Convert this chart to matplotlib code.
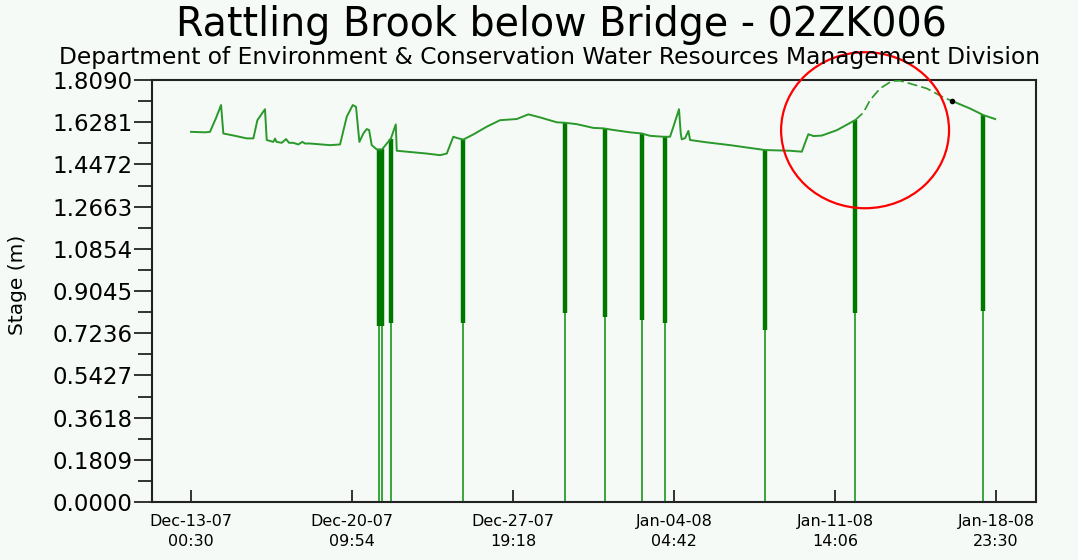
import numpy as np
import matplotlib
matplotlib.use("Agg")
import matplotlib.pyplot as plt
import matplotlib.dates as mdates
from matplotlib.patches import Ellipse
from matplotlib.ticker import FixedLocator, FormatStrFormatter
from datetime import datetime, timedelta

# Stage record for 02ZK006 (time, stage in m)
stage_times = [
    "2007-12-13 00:30", "2007-12-13 15:54", "2007-12-13 21:24", "2007-12-14 04:00",
    "2007-12-14 09:36", "2007-12-14 12:06", "2007-12-15 01:00", "2007-12-15 13:54",
    "2007-12-15 21:12", "2007-12-16 01:36", "2007-12-16 10:00", "2007-12-16 11:54",
    "2007-12-16 19:12", "2007-12-16 21:06", "2007-12-16 22:42", "2007-12-17 04:30",
    "2007-12-17 09:12", "2007-12-17 12:30", "2007-12-17 17:12", "2007-12-17 22:42",
    "2007-12-18 03:06", "2007-12-18 06:06", "2007-12-18 11:36", "2007-12-19 09:42",
    "2007-12-19 20:42", "2007-12-20 04:06", "2007-12-20 10:42", "2007-12-20 14:18",
    "2007-12-20 18:00", "2007-12-20 22:24", "2007-12-21 02:06", "2007-12-21 04:42",
    "2007-12-21 07:36", "2007-12-21 13:06", "2007-12-21 19:00", "2007-12-22 01:54",
    "2007-12-22 04:54", "2007-12-22 10:06", "2007-12-22 11:12", "2007-12-22 22:12",
    "2007-12-23 20:12", "2007-12-24 10:54", "2007-12-24 18:18", "2007-12-25 01:30",
    "2007-12-25 07:00", "2007-12-25 12:36", "2007-12-25 23:36", "2007-12-26 14:18",
    "2007-12-27 05:00", "2007-12-27 23:24", "2007-12-28 12:12", "2007-12-29 01:06",
    "2007-12-29 19:30", "2007-12-30 04:36", "2007-12-30 17:30", "2007-12-31 11:48",
    "2007-12-31 22:48", "2008-01-01 09:54", "2008-01-02 04:12", "2008-01-02 17:06",
    "2008-01-03 02:18", "2008-01-03 16:54", "2008-01-04 00:18", "2008-01-04 04:00",
    "2008-01-04 10:12", "2008-01-04 12:06", "2008-01-04 13:12", "2008-01-04 16:54",
    "2008-01-04 20:30", "2008-01-04 22:24", "2008-01-05 16:48", "2008-01-06 18:30",
    "2008-01-07 20:06", "2008-01-08 09:00", "2008-01-09 12:30", "2008-01-10 01:30",
    "2008-01-10 08:42", "2008-01-10 14:18", "2008-01-10 23:30", "2008-01-11 16:00",
    "2008-01-12 12:12", "2008-01-12 21:18", "2008-01-13 04:42", "2008-01-13 15:42",
    "2008-01-14 04:36", "2008-01-14 13:48", "2008-01-15 00:48", "2008-01-15 19:12",
    "2008-01-16 13:30", "2008-01-16 22:42", "2008-01-17 18:54", "2008-01-18 09:30",
    "2008-01-18 22:30",
]
stage_m = [
    1.587, 1.585, 1.587, 1.646,
    1.702, 1.580, 1.570, 1.559,
    1.559, 1.637, 1.684, 1.552,
    1.544, 1.558, 1.544, 1.540,
    1.556, 1.540, 1.540, 1.533,
    1.544, 1.537, 1.537, 1.530,
    1.533, 1.652, 1.702, 1.694,
    1.544, 1.580, 1.599, 1.595,
    1.530, 1.512, 1.512, 1.545,
    1.560, 1.619, 1.506, 1.502,
    1.494, 1.487, 1.494, 1.566,
    1.559, 1.554, 1.576, 1.609,
    1.637, 1.642, 1.662, 1.649,
    1.628, 1.626, 1.620, 1.604,
    1.602, 1.595, 1.585, 1.580,
    1.570, 1.566, 1.566, 1.609,
    1.684, 1.580, 1.555, 1.560,
    1.591, 1.552, 1.542, 1.530,
    1.516, 1.509, 1.506, 1.502,
    1.577, 1.569, 1.571, 1.594,
    1.637, 1.669, 1.723, 1.773,
    1.805, 1.806, 1.794, 1.773,
    1.735, 1.720, 1.687, 1.659,
    1.642,
]

# period drawn dashed (estimated values)
est_start = "2008-01-12 12:12"
est_end = "2008-01-16 22:42"
marker_time = "2008-01-16 22:42"
marker_stage = 1.720

# sensor dropouts: time and where the heavy part of the spike ends
dropout_times = [
    "2007-12-21 16:00", "2007-12-21 19:00", "2007-12-22 04:18", "2007-12-25 12:36",
    "2007-12-30 04:36", "2008-01-01 00:18", "2008-01-02 17:30", "2008-01-03 19:06",
    "2008-01-08 09:00", "2008-01-12 12:12", "2008-01-18 09:30",
]
dropout_low = [0.754, 0.754, 0.768, 0.767, 0.810, 0.793, 0.780, 0.767, 0.737, 0.810, 0.820]

tick_start = "2007-12-13 00:30"
tick_step = timedelta(days=7, hours=9, minutes=24)
y_step = 0.1809

fmt = "%Y-%m-%d %H:%M"
t = mdates.date2num([datetime.strptime(s, fmt) for s in stage_times])
v = np.array(stage_m)
t_est0 = mdates.date2num(datetime.strptime(est_start, fmt))
t_est1 = mdates.date2num(datetime.strptime(est_end, fmt))
t_drop = mdates.date2num([datetime.strptime(s, fmt) for s in dropout_times])
drop_top = np.interp(t_drop, t, v)

bg = "#f5faf6"
line_green = "#2a982a"
dark_green = "#007800"

plt.rcParams["font.family"] = ["DejaVu Sans"]
fig = plt.figure(figsize=(10.78, 5.6), dpi=100, facecolor=bg)
ax = fig.add_axes([0.141, 0.1036, 0.82, 0.7534], facecolor=bg)

# dropouts: thin line to zero, heavy bar near the stage level
ax.vlines(t_drop, 0, dropout_low, color="#3aa53a", lw=1.4, zorder=2)
ax.vlines(t_drop, dropout_low, drop_top, color=dark_green, lw=3.2, zorder=3)

before = t <= t_est0
est = (t >= t_est0) & (t <= t_est1)
after = t >= t_est1
ax.plot(t[before], v[before], color=line_green, lw=1.4, zorder=4)
ax.plot(t[est], v[est], color=line_green, lw=1.2, dashes=(6, 2.5), zorder=4)
ax.plot(t[after], v[after], color=line_green, lw=1.4, zorder=4)
ax.plot(mdates.date2num(datetime.strptime(marker_time, fmt)), marker_stage,
        "o", color="black", ms=3, zorder=5)

# axis limits and ticks
t0 = datetime.strptime(tick_start, fmt)
xticks = [t0 + k * tick_step for k in range(6)]
ax.set_xlim(mdates.date2num(t0 - timedelta(hours=43)),
            mdates.date2num(t0 + timedelta(hours=931)))
ax.set_ylim(0, 10 * y_step)
ax.xaxis.set_major_locator(FixedLocator(mdates.date2num(xticks)))
ax.xaxis.set_major_formatter(mdates.DateFormatter("%b-%d-%y\n%H:%M"))
ax.yaxis.set_major_locator(FixedLocator([k * y_step for k in range(11)]))
ax.yaxis.set_minor_locator(FixedLocator([(k + 0.5) * y_step for k in range(10)]))
ax.yaxis.set_major_formatter(FormatStrFormatter("%.4f"))

ax.tick_params(axis="x", direction="in", length=9, width=1.3, color="#222222",
               labelsize=11.5, pad=9)
ax.tick_params(axis="y", which="major", direction="out", length=13, width=1.3,
               color="#222222", labelsize=16.5, pad=1)
ax.tick_params(axis="y", which="minor", direction="out", length=10, width=1.3,
               color="#222222")
for lab in ax.get_xticklabels():
    lab.set_linespacing(1.35)
for sp in ax.spines.values():
    sp.set_linewidth(1.5)
    sp.set_color("#222222")

ax.set_ylabel("Stage (m)", fontsize=14.5)
ax.yaxis.set_label_coords(-0.141, 0.514)

fig.text(0.521, 0.955, "Rattling Brook below Bridge - 02ZK006", ha="center",
         va="center", fontsize=28.5)
fig.text(0.51, 0.898, "Department of Environment & Conservation Water Resources Management Division",
         ha="center", va="center", fontsize=16.8)

# highlight around the recent peak
ring = Ellipse((mdates.date2num(datetime(2008, 1, 12, 23, 12)), 1.594),
               width=7.71, height=0.669, fill=False, edgecolor="red", lw=1.6,
               clip_on=False, zorder=6)
ax.add_patch(ring)

fig.savefig("out.png", dpi=100, facecolor=bg)
